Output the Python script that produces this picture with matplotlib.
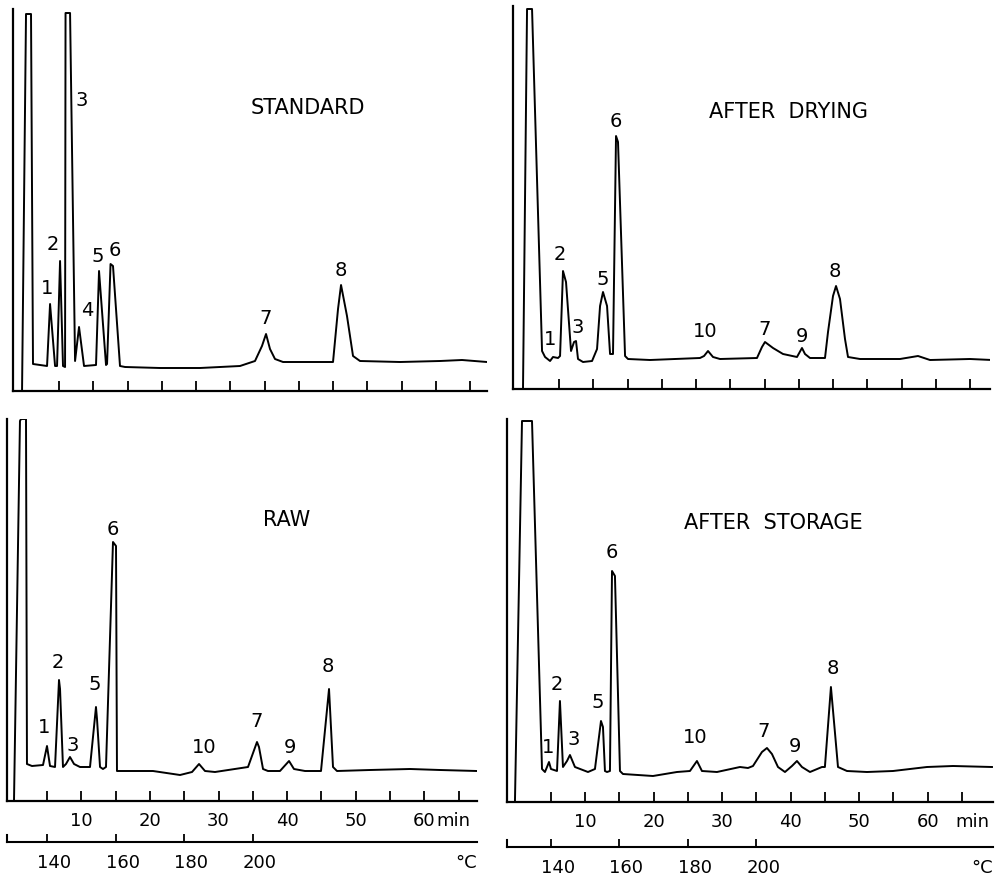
import matplotlib
matplotlib.use('Agg')
import matplotlib.pyplot as plt
from matplotlib.transforms import ScaledTranslation

# retention time (min) and recorder deflection for each trace
std_t = [-0.40, 0.18, 0.91, 1.20, 3.25, 3.69, 4.42, 4.71, 5.15, 5.58, 5.88, 5.95, 6.61, 7.34,
         7.92, 8.65, 10.40, 10.84, 11.86, 12.01, 12.52, 12.88, 13.90, 14.64, 19.74, 25.58,
         31.42, 33.61, 34.63, 35.22, 35.80, 36.53, 37.70, 41.64, 45.00, 45.73, 46.17, 47.04,
         47.92, 48.94, 54.78, 60.62, 63.83, 67.48]
std_h = [0, 377, 377, 27, 25, 87, 25, 25, 130, 25, 24, 378, 378, 30,
         64, 25, 26, 120, 26, 27, 127, 125, 25, 24, 23, 23,
         25, 30, 45, 57, 42, 32, 29, 29, 29, 82, 106, 75,
         35, 30, 29, 30, 31, 29]

dry_t = [-0.26, 0.33, 1.06, 2.52, 2.96, 3.69, 4.12, 4.85, 5.15, 5.58, 6.02, 6.75, 7.19, 7.48,
         7.77, 8.50, 9.82, 10.55, 10.99, 11.42, 12.01, 12.45, 12.88, 13.32, 13.61, 14.64,
         15.07, 18.28, 25.58, 26.17, 26.75, 27.48, 28.50, 33.90, 34.63, 35.07, 36.24, 37.70,
         39.74, 40.47, 40.91, 41.64, 43.83, 44.27, 45.00, 45.44, 46.02, 46.75, 47.19, 48.94,
         54.78, 57.41, 59.16, 65.00, 68.21]
dry_h = [0, 380, 380, 38, 32, 28, 32, 31, 33, 118, 107, 38, 47, 48,
         30, 27, 28, 40, 83, 97, 83, 35, 35, 253, 247, 33,
         30, 29, 31, 33, 38, 32, 30, 31, 42, 47, 41, 35,
         32, 41, 35, 31, 31, 57, 93, 103, 90, 50, 32, 30,
         30, 33, 29, 30, 29]

raw_t = [0.19, 1.06, 1.21, 1.94, 2.08, 2.81, 4.42, 5.00, 5.44, 6.17, 6.75, 6.90, 7.33, 7.77,
         8.35, 8.94, 9.81, 11.27, 12.14, 12.29, 12.73, 13.16, 13.60, 14.62, 15.06, 15.20,
         16.37, 20.45, 24.39, 26.14, 27.16, 28.03, 29.49, 34.30, 35.61, 35.90, 36.49, 37.21,
         38.96, 40.28, 41.00, 42.61, 44.94, 46.11, 46.69, 47.27, 52.08, 57.92, 62.29, 67.68]
raw_h = [0, 380, 382, 382, 37, 35, 36, 55, 35, 34, 121, 112, 34, 37,
         44, 37, 34, 34, 94, 82, 34, 32, 34, 259, 255, 30,
         30, 30, 26, 29, 37, 30, 29, 34, 59, 54, 32, 30,
         30, 40, 32, 30, 30, 112, 34, 30, 31, 32, 31, 30]

sto_t = [-0.26, 0.77, 2.23, 3.69, 4.12, 4.42, 4.71, 5.00, 5.88, 6.31, 6.75, 7.34, 7.77, 8.50,
         10.40, 11.42, 12.30, 12.59, 12.88, 13.18, 13.61, 13.91, 14.34, 15.07, 15.51, 19.89,
         23.39, 25.29, 26.31, 27.04, 29.23, 32.59, 33.76, 34.49, 35.80, 36.53, 37.26, 38.14,
         39.16, 40.18, 40.91, 41.64, 42.81, 44.56, 44.99, 45.87, 46.90, 48.21, 51.13, 54.93,
         59.89, 63.69, 69.38]
sto_h = [0, 381, 381, 33, 30, 35, 40, 33, 31, 101, 35, 41, 47, 35,
         30, 33, 81, 75, 31, 30, 31, 231, 226, 31, 28, 26,
         30, 31, 41, 31, 30, 35, 34, 36, 50, 54, 48, 35,
         30, 36, 41, 35, 30, 35, 35, 115, 35, 31, 30, 31,
         35, 36, 35]

std_names = ['1', '2', '3', '4', '5', '6', '7', '8']
dry_names = ['1', '2', '3', '5', '6', '10', '7', '9', '8']
raw_names = ['1', '2', '3', '5', '6', '10', '7', '9', '8']
sto_names = ['1', '2', '3', '5', '6', '10', '7', '9', '8']

minute_ticks = [5, 10, 15, 20, 25, 30, 35, 40, 45, 50, 55, 60, 65]
minute_labels = ['', '10', '', '20', '', '30', '', '40', '', '50', '', '60', '']
temp_ticks = [140, 160, 180, 200]   # 2 deg/min from 130 deg C


def temp_to_min(T):
    return (T - 130) / 2.0


W, H = 998, 879
fig = plt.figure(figsize=(W / 100, H / 100), dpi=100)
fs_peak = 14
fs_tick = 13


def px_axes(x0, ytop, x1, ybot):
    return fig.add_axes([x0 / W, 1 - ybot / H, (x1 - x0) / W, (ybot - ytop) / H])


panels = [
    # t, h, names, label positions, title, title pos, box (px), xlim, bottom row
    (std_t, std_h, std_names,
     [(3.25, 104), (4.12, 147), (8.36, 292), (9.09, 82), (10.69, 135), (13.18, 142),
      (35.22, 74), (46.17, 122)],
     'STANDARD', (41.35, 284), (13, 10, 487, 392), (-1.72, 67.48), False),
    (dry_t, dry_h, dry_names,
     [(3.69, 50), (5.15, 135), (7.77, 62), (11.42, 110), (13.32, 268), (26.31, 58),
      (35.07, 60), (40.47, 53), (45.29, 118)],
     'AFTER  DRYING', (38.43, 278), (513, 7, 990, 390), (-1.72, 67.92), False),
    (raw_t, raw_h, raw_names,
     [(4.56, 74), (6.60, 139), (8.79, 56), (12.0, 117), (14.62, 272), (27.89, 54),
      (35.61, 80), (40.42, 54), (45.96, 135)],
     'RAW', (40.0, 282), (7, 420, 477, 802), (-0.83, 67.68), True),
    (sto_t, sto_h, sto_names,
     [(4.56, 55), (5.88, 118), (8.36, 63), (11.86, 100), (13.91, 250), (25.99, 65),
      (36.09, 71), (40.62, 56), (46.17, 135)],
     'AFTER  STORAGE', (37.41, 280), (507, 420, 993, 803), (-1.42, 69.53), True),
]

for t, h, names, label_xy, title, title_xy, box, xlim, bottom in panels:
    ax = px_axes(*box)
    ax.plot(t, h, color='black', lw=1.4, solid_joinstyle='round')
    ax.set_xlim(*xlim)
    ax.set_ylim(0, box[3] - box[1])
    for s in ['top', 'right']:
        ax.spines[s].set_visible(False)
    for s in ['left', 'bottom']:
        ax.spines[s].set_linewidth(1.6)
    ax.set_yticks([])
    ax.set_xticks(minute_ticks)
    ax.tick_params(axis='x', direction='in', length=7, width=1.3, pad=7,
                   labelsize=fs_tick)
    for name, (lx, ly) in zip(names, label_xy):
        ax.text(lx, ly, name, ha='center', va='center', fontsize=fs_peak)
    ax.text(title_xy[0], title_xy[1], title, ha='center', va='center', fontsize=15)

    if not bottom:
        ax.set_xticklabels([])
        continue

    ax.set_xticklabels(minute_labels)
    gap = 9 if box[0] < 500 else 20
    ax.annotate('min', xy=(60, 0), xycoords=('data', 'axes fraction'),
                xytext=(gap, -7), textcoords='offset points', ha='left', va='top',
                fontsize=fs_tick)

    # temperature scale under the time axis
    ybase = 843 if box[0] < 500 else 848
    axt = px_axes(box[0], ybase - 7, box[2], ybase)
    axt.set_xlim(*xlim)
    axt.set_ylim(0, 1)
    axt.patch.set_visible(False)
    for s in ['top', 'right']:
        axt.spines[s].set_visible(False)
    for s in ['left', 'bottom']:
        axt.spines[s].set_linewidth(1.5)
    axt.set_yticks([])
    axt.set_xticks([temp_to_min(T) for T in temp_ticks])
    axt.set_xticklabels([str(T) for T in temp_ticks])
    axt.tick_params(axis='x', direction='in', length=6, width=1.3, pad=8,
                    labelsize=fs_tick)
    shift = ScaledTranslation(7 / 100, 0, fig.dpi_scale_trans)
    for lab in axt.get_xticklabels():
        lab.set_transform(lab.get_transform() + shift)
    axt.annotate('\u00b0C', xy=(1, 0), xycoords='axes fraction', xytext=(0, -8),
                 textcoords='offset points', ha='right', va='top', fontsize=fs_tick)

fig.savefig('out.png', dpi=100)
